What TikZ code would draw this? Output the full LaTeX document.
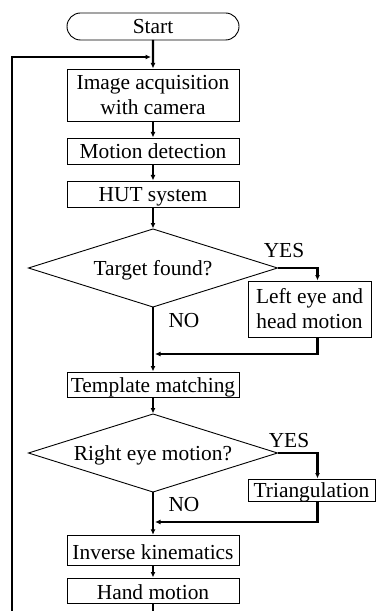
\documentclass[tikz,border=0pt]{standalone}
\usepackage{fontspec}
\setmainfont{Liberation Serif}
\usetikzlibrary{shapes.geometric,shapes.misc,arrows.meta}
\newcommand{\fs}{\fontsize{21.4bp}{25bp}\selectfont}
\begin{document}
\begin{tikzpicture}[x=1bp,y=-1bp,
  every node/.style={font=\fs, inner sep=0pt, outer sep=0pt},
  box/.style={draw, line width=0.9bp, rectangle, minimum width=172bp, align=center},
  one/.style={text height=15bp, text depth=0bp},
  dec/.style={draw, line width=0.9bp, diamond, aspect=3.2, minimum width=249bp, minimum height=78bp, one},
  conn/.style={line width=2.1bp, -{Latex[length=5.5bp,width=5bp]}, shorten >=0.5bp},
  lbl/.style={one}]

\useasboundingbox (0,0) rectangle (387,611);
\clip (0,0) rectangle (387,611);

% process steps
\node[box, rounded rectangle, minimum height=27bp, one] (start) at (153,26.5) {Start};
\node[box, minimum height=52bp] (img) at (153,95) {Image acquisition\\with camera};
\node[box, minimum height=26bp, one] (mot) at (153,151) {Motion detection};
\node[box, minimum height=26bp, one] (hut) at (153,194) {HUT system};
\node[dec] (d1) at (153,268) {Target found?};
\node[box, minimum width=123bp, minimum height=56bp] (left) at (309.5,309) {Left eye and\\head motion};
\node[box, minimum height=25bp, one] (tm) at (153,384.5) {Template matching};
\node[dec] (d2) at (153,453) {Right eye motion?};
\node[box, minimum width=127bp, minimum height=22bp, one] (tri) at (311.5,490) {Triangulation};
\node[box, minimum height=30bp, text height=19bp] (ik) at (153,550.3) {Inverse kinematics};
\node[box, minimum height=25bp, text height=17bp, text depth=0bp] (hand) at (153,590.5) {Hand motion};

% branch labels
\node[lbl] (yes1) at (284,250) {YES};
\node[lbl] (no1) at (184,320) {NO};
\node[lbl] (yes2) at (289,440) {YES};
\node[lbl] (no2) at (184,504) {NO};

% junction points
\coordinate (j0) at (153,57);
\coordinate (j1) at (153,354);
\coordinate (j2) at (153,522);
\coordinate (lp) at (12,57);
\coordinate (bt) at (153,640);

% connectors
\draw[conn] (start) -- (img);
\draw[conn] (img) -- (mot);
\draw[conn] (mot) -- (hut);
\draw[conn] (hut) -- (d1);
\draw[conn] (d1.east) -| ([xshift=8bp]left.north);
\draw[conn] (d1.south) -- (tm.north);
\draw[conn] ([xshift=8bp]left.south) |- ([xshift=1.5bp]j1);
\draw[conn] (tm) -- (d2);
\draw[conn] (d2.east) -| ([xshift=6bp]tri.north);
\draw[conn] (d2.south) -- (ik.north);
\draw[conn] ([xshift=6bp]tri.south) |- ([xshift=1.5bp]j2);
\draw[conn] (ik) -- (hand);
\draw[conn] (hand.south) -- (bt) -| (lp) -- ([xshift=-1.5bp]j0);
\end{tikzpicture}
\end{document}
